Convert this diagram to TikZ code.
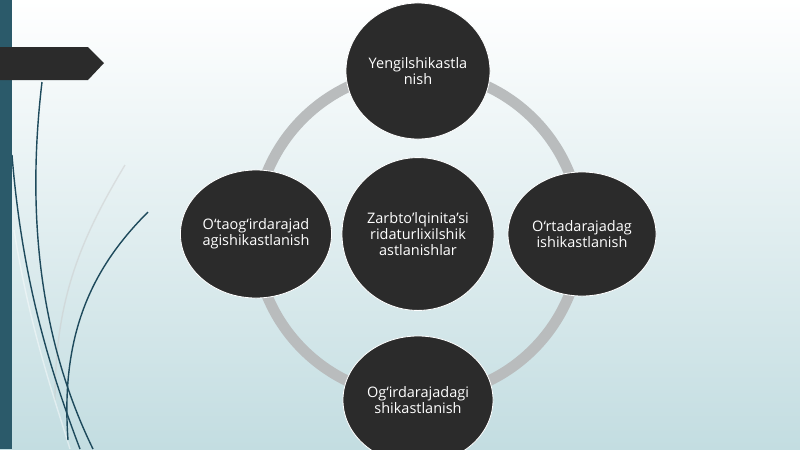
\documentclass[tikz,border=0pt]{standalone}
\usepackage{fontspec}
\setmainfont{Open Sans}
\usetikzlibrary{shapes.geometric}

\definecolor{barteal}{HTML}{2B5A6A}
\definecolor{blobgray}{HTML}{2B2B2B}
\definecolor{ringgray}{HTML}{B9BCBD}
\definecolor{bgmid}{HTML}{E6F0F2}
\definecolor{bgbottom}{HTML}{C3DDE1}
\definecolor{swirl}{HTML}{1E4A5C}

\begin{document}
\begin{tikzpicture}[x=0.025cm, y=-0.025cm,
		blob/.style={ellipse, fill=blobgray, draw=white, line width=0.6pt, inner sep=0pt,
			text=white, align=center, font=\fontsize{10.3}{11.3}\selectfont},
		hub/.style={blob, minimum width=3.8cm, minimum height=3.82cm},
		spoke/.style={blob, minimum width=3.7cm, minimum height=3.2cm},
		swirlline/.style={swirl, line width=1pt}]
		\useasboundingbox (0,0) rectangle (800,449);
		\clip (0,0) rectangle (800,449);
		\shade[top color=white, middle color=bgmid, bottom color=bgbottom] (0,0) rectangle (800,449);

		% left decoration
		\draw[gray!40, opacity=0.5, line width=1pt] (125,165) .. controls (80,240) and (55,300) .. (55,400);
		\draw[white, opacity=0.45, line width=1pt] (14,230) .. controls (30,330) and (55,400) .. (70,449);
		\draw[swirlline] (42,82) .. controls (28,200) and (35,330) .. (93,449);
		\draw[swirlline] (12,155) .. controls (22,280) and (50,370) .. (80,449);
		\draw[swirlline] (148,212) .. controls (95,265) and (60,330) .. (68,440);
		\fill[barteal] (0,0) rectangle (12,449);
		\fill[blobgray] (0,47) -- (88,47) -- (104,63) -- (88,80) -- (0,80) -- cycle;

		% ring behind the circles
		\draw[ringgray, line width=0.27cm] (418,234) circle [radius=163];

		\node[hub] (centre) at (418,234) {Zarbto’lqinita’si\\ridaturlixilshik\\astlanishlar};
		\node[spoke, minimum width=3.6cm, minimum height=3.4cm] (top) at (418,71) {Yengilshikastla\\nish};
		\node[spoke] (left) at (256,234) {O‘taog‘irdarajad\\agishikastlanish};
		\node[spoke, minimum height=3.1cm] (right) at (582,234) {O‘rtadarajadag\\ishikastlanish};
		\node[spoke, minimum width=3.75cm] (bottom) at (418,400) {Og‘irdarajadagi\\shikastlanish};

		\end{tikzpicture}
\end{document}
